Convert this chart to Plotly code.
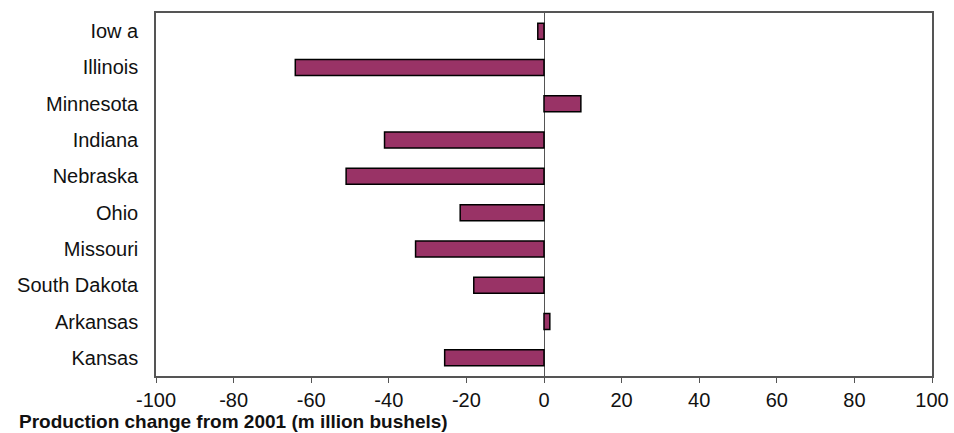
import plotly.graph_objects as go

# Change in production versus 2001, by state (million bushels)
states = ["Iow a", "Illinois", "Minnesota", "Indiana", "Nebraska", "Ohio",
          "Missouri", "South Dakota", "Arkansas", "Kansas"]
change = [-1.6, -64.1, 9.5, -41.1, -51.0, -21.6, -33.1, -18.1, 1.5, -25.6]
x_ticks = [-100, -80, -60, -40, -20, 0, 20, 40, 60, 80, 100]

fig = go.Figure(go.Bar(
    x=change,
    y=states,
    orientation="h",
    width=0.44,
    marker=dict(color="#993366", line=dict(color="#000000", width=1.5)),
    hoverinfo="x+y",
))

fig.update_layout(
    width=954,
    height=433,
    margin=dict(l=156, r=22, t=13, b=57),
    paper_bgcolor="white",
    plot_bgcolor="white",
    showlegend=False,
    font=dict(family="Liberation Sans, Arial, sans-serif", size=20, color="#111111"),
    xaxis=dict(
        range=[-100, 100],
        tickvals=x_ticks,
        ticktext=[str(v) for v in x_ticks],
        automargin=False,
        showgrid=False,
        zeroline=True,
        zerolinecolor="#555555",
        zerolinewidth=1,
        showline=True,
        linecolor="#555555",
        linewidth=1.5,
        mirror=True,
        ticks="outside",
        ticklen=5,
        tickcolor="#555555",
        tickfont=dict(size=20),
    ),
    yaxis=dict(
        autorange="reversed",
        automargin=False,
        showgrid=False,
        showline=True,
        linecolor="#555555",
        linewidth=1.5,
        mirror=True,
        ticks="",
        ticklabelstandoff=12,
        tickfont=dict(size=20),
    ),
    annotations=[dict(
        text="<b>Production change from 2001 (m illion bushels)</b>",
        xref="paper", yref="paper",
        x=(17 - 156) / 776, y=0, yshift=-45,
        xanchor="left", yanchor="middle",
        showarrow=False,
        font=dict(size=19, color="#111111"),
    )],
)

fig.write_html("out.html")
